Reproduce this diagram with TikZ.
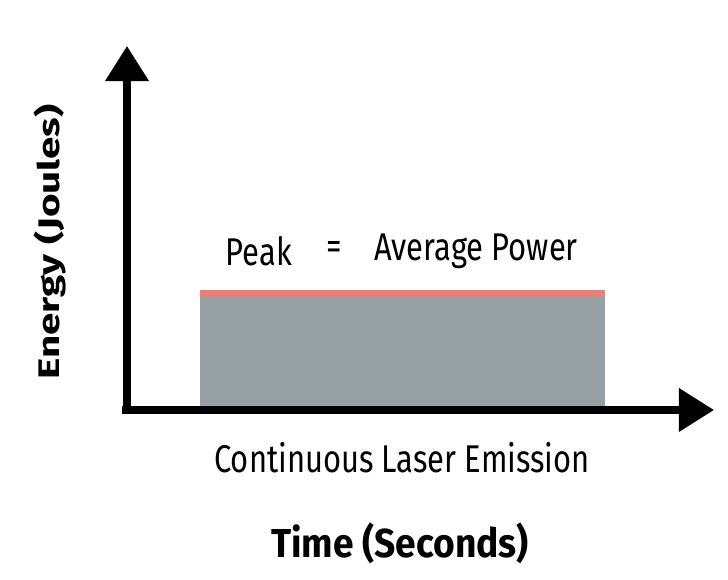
\documentclass[tikz,border=0pt]{standalone}
\usepackage{fontspec}
\setmainfont{Fira Sans}
\usetikzlibrary{arrows.meta}
\definecolor{barfill}{RGB}{150,160,165}
\definecolor{peakline}{RGB}{232,128,118}
\tikzset{
  axis/.style={line width=4pt, -{Triangle[length=20pt,width=24pt]}},
  label/.style={font=\fontsize{22}{25}\selectfont, xscale=0.8, inner sep=0pt},
  title/.style={font=\fontsize{23}{26}\selectfont\bfseries, xscale=0.92, inner sep=0pt}
}
\begin{document}
\begin{tikzpicture}[x=0.02cm,y=-0.02cm]
\useasboundingbox (0,0) rectangle (728,580);
% bar
\fill [barfill] (200,297) rectangle (605,408);
\fill [peakline] (200,290) rectangle (605,297);
% axes
\coordinate (o) at (127,410);
\coordinate (ytip) at (127,46);
\coordinate (xtip) at (714,410);
\draw [axis] (122,410) -- (xtip);
\draw [axis] (127,413) -- (ytip);
% texts
\node [label] (peak) at (259,251) {Peak};
\node [label] (eq) at (334,251) {=};
\node [label] (avg) at (476,251) {Average Power};
\node [label] (emission) at (402,458) {Continuous Laser Emission};
\node [title] (time) at (400,543) {Time (Seconds)};
\node [title, rotate=90, xscale=1, yscale=0.8] (energy) at (50,242) {Energy (Joules)};
\end{tikzpicture}
\end{document}
